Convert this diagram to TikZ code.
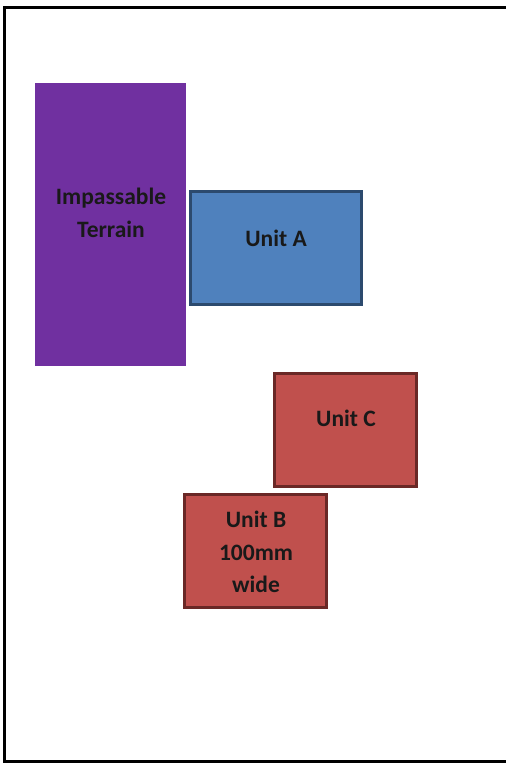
\documentclass[tikz,border=0pt]{standalone}
\usepackage{fontspec}
\setmainfont{Carlito}
\definecolor{terrain}{HTML}{7030A0}
\definecolor{blueunit}{HTML}{4F81BD}
\definecolor{blueedge}{HTML}{2C4A6E}
\definecolor{redunit}{HTML}{C0504D}
\definecolor{rededge}{HTML}{6A2826}
\begin{document}
\begin{tikzpicture}[x=1pt,y=-1pt,
  box/.style={rectangle,inner sep=0pt,outer sep=0pt},
  bluebox/.style={box,fill=blueunit,draw=blueedge,line width=3pt},
  redbox/.style={box,fill=redunit,draw=rededge,line width=3pt},
  lbl/.style={font=\fontsize{23.5}{32.5}\selectfont\bfseries,align=center,inner sep=0pt,text=black!90}]
\useasboundingbox (0,0) rectangle (506,764);
\fill[white] (0,0) rectangle (506,764);
\draw[line width=3pt] (506,7) -- (4.5,7) -- (4.5,761) -- (506,761);
\node[box,fill=terrain,minimum width=151pt,minimum height=283pt] (terr) at (110.5,224.5) {};
\node[bluebox,minimum width=171pt,minimum height=113pt] (ua) at (276,248) {};
\node[redbox,minimum width=142pt,minimum height=113pt] (uc) at (345.5,430) {};
\node[redbox,minimum width=142pt,minimum height=113pt] (ub) at (255.5,551) {};
\node[lbl] (terrt) at (111,213) {Impassable\\Terrain};
\node[lbl] (uat) at (276,238) {Unit A};
\node[lbl] (uct) at (346,418) {Unit C};
\node[lbl] (ubt) at (256,552) {Unit B\\100mm\\wide};
\end{tikzpicture}
\end{document}
